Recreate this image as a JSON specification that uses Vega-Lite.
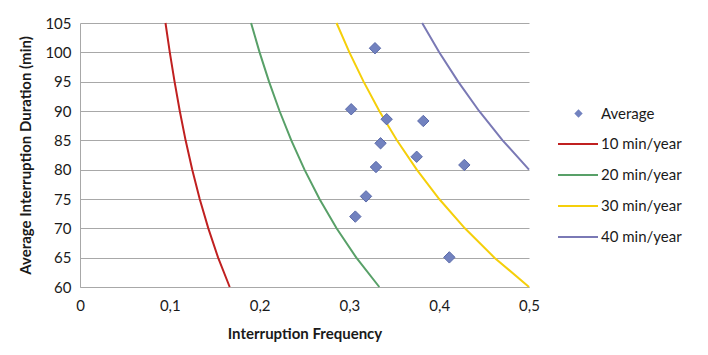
{
  "$schema": "https://vega.github.io/schema/vega-lite/v6.json",
  "width": 449,
  "height": 264,
  "autosize": {"type": "none"},
  "padding": {"left": 80, "top": 23, "right": 179, "bottom": 68},
  "background": "white",
  "config": {
    "font": "Lato",
    "view": {"stroke": null},
    "axis": {"labelColor": "#1a1a1a", "titleColor": "#1a1a1a", "labelFont": "Lato", "titleFont": "Lato"},
    "legend": {"labelFont": "Lato"}
  },
  "data": {
    "values": [
      {"marker": "Average", "x": 0.3285, "y": 100.7},
      {"marker": "Average", "x": 0.302, "y": 90.3},
      {"marker": "Average", "x": 0.3415, "y": 88.6},
      {"marker": "Average", "x": 0.3823, "y": 88.3},
      {"marker": "Average", "x": 0.3347, "y": 84.5},
      {"marker": "Average", "x": 0.3749, "y": 82.2},
      {"marker": "Average", "x": 0.3296, "y": 80.45},
      {"marker": "Average", "x": 0.428, "y": 80.8},
      {"marker": "Average", "x": 0.3185, "y": 75.45},
      {"marker": "Average", "x": 0.3066, "y": 72.0},
      {"marker": "Average", "x": 0.4113, "y": 65.05},
      {"series": "10 min/year", "x": 0.1667, "y": 60},
      {"series": "10 min/year", "x": 0.1538, "y": 65},
      {"series": "10 min/year", "x": 0.1429, "y": 70},
      {"series": "10 min/year", "x": 0.1333, "y": 75},
      {"series": "10 min/year", "x": 0.125, "y": 80},
      {"series": "10 min/year", "x": 0.1176, "y": 85},
      {"series": "10 min/year", "x": 0.1111, "y": 90},
      {"series": "10 min/year", "x": 0.1053, "y": 95},
      {"series": "10 min/year", "x": 0.1, "y": 100},
      {"series": "10 min/year", "x": 0.0952, "y": 105},
      {"series": "20 min/year", "x": 0.3333, "y": 60},
      {"series": "20 min/year", "x": 0.3077, "y": 65},
      {"series": "20 min/year", "x": 0.2857, "y": 70},
      {"series": "20 min/year", "x": 0.2667, "y": 75},
      {"series": "20 min/year", "x": 0.25, "y": 80},
      {"series": "20 min/year", "x": 0.2353, "y": 85},
      {"series": "20 min/year", "x": 0.2222, "y": 90},
      {"series": "20 min/year", "x": 0.2105, "y": 95},
      {"series": "20 min/year", "x": 0.2, "y": 100},
      {"series": "20 min/year", "x": 0.1905, "y": 105},
      {"series": "30 min/year", "x": 0.5, "y": 60},
      {"series": "30 min/year", "x": 0.4615, "y": 65},
      {"series": "30 min/year", "x": 0.4286, "y": 70},
      {"series": "30 min/year", "x": 0.4, "y": 75},
      {"series": "30 min/year", "x": 0.375, "y": 80},
      {"series": "30 min/year", "x": 0.3529, "y": 85},
      {"series": "30 min/year", "x": 0.3333, "y": 90},
      {"series": "30 min/year", "x": 0.3158, "y": 95},
      {"series": "30 min/year", "x": 0.3, "y": 100},
      {"series": "30 min/year", "x": 0.2857, "y": 105},
      {"series": "40 min/year", "x": 0.5, "y": 80},
      {"series": "40 min/year", "x": 0.4706, "y": 85},
      {"series": "40 min/year", "x": 0.4444, "y": 90},
      {"series": "40 min/year", "x": 0.4211, "y": 95},
      {"series": "40 min/year", "x": 0.4, "y": 100},
      {"series": "40 min/year", "x": 0.381, "y": 105}
    ]
  },
  "encoding": {
    "x": {
      "field": "x", "type": "quantitative",
      "scale": {"domain": [0, 0.5], "nice": false, "zero": false},
      "axis": {
        "title": "Interruption Frequency",
        "values": [0, 0.1, 0.2, 0.3, 0.4, 0.5],
        "labelExpr": "datum.value === 0 ? '0' : replace(format(datum.value, '.1f'), '.', ',')",
        "grid": false, "ticks": false,
        "domainColor": "#a8a8a8", "domainWidth": 1,
        "labelFontSize": 15, "labelPadding": 11,
        "titleFontSize": 15, "titleFontWeight": "bold", "titlePadding": 13,
        "labelFlush": false
      }
    },
    "y": {
      "field": "y", "type": "quantitative",
      "scale": {"domain": [60, 105], "nice": false, "zero": false},
      "axis": {
        "title": "Average Interruption Duration (min)",
        "values": [60, 65, 70, 75, 80, 85, 90, 95, 100, 105],
        "grid": true, "gridColor": "#a8a8a8", "gridWidth": 1,
        "ticks": false,
        "domainColor": "#a8a8a8", "domainWidth": 1,
        "labelFontSize": 15, "labelPadding": 9,
        "titleFontSize": 15, "titleFontWeight": "bold", "titlePadding": 11
      }
    }
  },
  "layer": [
    {
      "transform": [{"filter": "isValid(datum.series)"}],
      "mark": {"type": "line", "strokeWidth": 2},
      "encoding": {
        "order": {"field": "y", "type": "quantitative"},
        "color": {
          "field": "series", "type": "nominal",
          "scale": {
            "domain": ["10 min/year", "20 min/year", "30 min/year", "40 min/year"],
            "range": ["#c02020", "#58a068", "#f5cf0a", "#7a79b5"]
          },
          "legend": {
            "title": null,
            "orient": "none",
            "legendX": 477,
            "legendY": 100,
            "symbolType": "stroke",
            "symbolSize": 1600,
            "symbolStrokeWidth": 2,
            "labelFontSize": 15,
            "labelColor": "#1a1a1a",
            "labelOffset": 2,
            "rowPadding": 2
          }
        }
      }
    },
    {
      "transform": [{"filter": "isValid(datum.marker)"}],
      "mark": {"type": "point", "filled": true, "size": 130, "opacity": 1, "color": "#7282bf", "stroke": "#5b6baa", "strokeWidth": 1},
      "encoding": {
        "shape": {
          "field": "marker", "type": "nominal",
          "scale": {"domain": ["Average"], "range": ["diamond"]},
          "legend": {
            "title": null,
            "orient": "none",
            "legendX": 491,
            "legendY": 83,
            "symbolSize": 70,
            "symbolFillColor": "#7282bf",
            "symbolStrokeColor": "#5b6baa",
            "symbolStrokeWidth": 1,
            "labelFontSize": 15,
            "labelColor": "#1a1a1a",
            "labelOffset": 15
          }
        }
      }
    }
  ]
}
